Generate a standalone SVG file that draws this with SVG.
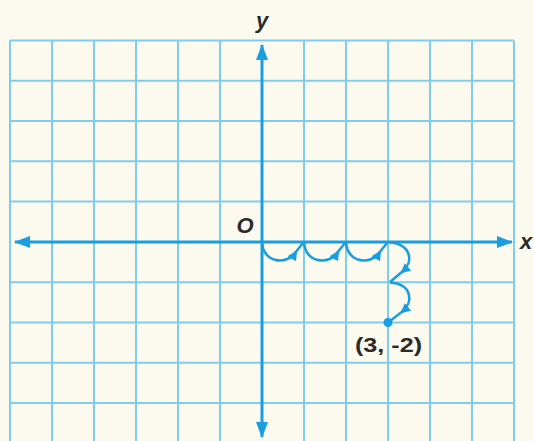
<svg xmlns="http://www.w3.org/2000/svg" width="534" height="441" viewBox="0 0 534 441">
<style>
.grid{stroke:#7fcdee;stroke-width:2;fill:none}
.axis{stroke:#1a9ee2;stroke-width:3;fill:none}
.hop{stroke:#1a9ee2;stroke-width:2.6;fill:none}
.lbl{font-family:"Liberation Sans",Arial,sans-serif;font-weight:bold;fill:#2a2a2a}
.it{font-style:italic;font-size:22px}
</style>
<defs>
<marker id="big" viewBox="0 0 16 12" refX="15" refY="6" markerWidth="16" markerHeight="12" orient="auto" markerUnits="userSpaceOnUse">
<path d="M0,0 L16,6 L0,12 Z" fill="#1a9ee2"/>
</marker>
<marker id="small" viewBox="0 0 10 10" refX="8" refY="5" markerWidth="10" markerHeight="10" orient="auto" markerUnits="userSpaceOnUse">
<path d="M0,0 L10,5 L0,10 Z" fill="#1a9ee2"/>
</marker>
</defs>
<rect width="534" height="441" fill="#fcf9ef"/>
<g id="grid" class="grid">
<path d="M10,40.5V441 M52,40.5V441 M94,40.5V441 M136,40.5V441 M178,40.5V441 M220,40.5V441 M304,40.5V441 M346,40.5V441 M388,40.5V441 M430,40.5V441 M472,40.5V441 M514,40.5V441"/>
<path d="M10,40.5H514 M10,80.75H514 M10,121H514 M10,161.25H514 M10,201.5H514 M10,282.25H514 M10,322.5H514 M10,362.75H514 M10,403H514"/>
</g>
<g id="axes">
<path class="axis" d="M262,242 H512" marker-end="url(#big)"/>
<path class="axis" d="M262,242 H15" marker-end="url(#big)"/>
<path class="axis" d="M262,242 V45" marker-end="url(#big)"/>
<path class="axis" d="M262,242 V437" marker-end="url(#big)"/>
</g>
<g id="connectors">
<path class="hop" d="M262,242 C263,264 288,265 296,252" marker-end="url(#small)"/>
<path class="hop" d="M295,253 L303,243"/>
<path class="hop" d="M304,242 C305,264 330,265 338,252" marker-end="url(#small)"/>
<path class="hop" d="M337,253 L345,243"/>
<path class="hop" d="M346,242 C347,264 372,265 380,252" marker-end="url(#small)"/>
<path class="hop" d="M379,253 L387,243"/>
<path class="hop" d="M388,242 C412,244 414,262 402,272" marker-end="url(#small)"/>
<path class="hop" d="M403,271 L390,282"/>
<path class="hop" d="M390,282.5 C412,284 414,302 402,312" marker-end="url(#small)"/>
<path class="hop" d="M403,311 L390,321"/>
</g>
<g id="point">
<circle cx="388" cy="322.5" r="4.5" fill="#1a9ee2"/>
<text class="lbl" x="355" y="352" font-size="20" textLength="67" lengthAdjust="spacingAndGlyphs">(3, -2)</text>
</g>
<g id="labels">
<text class="lbl it" x="262" y="28" text-anchor="middle">y</text>
<text class="lbl it" x="526" y="249" text-anchor="middle">x</text>
<text class="lbl it" x="245" y="233" text-anchor="middle">O</text>
</g>
</svg>
